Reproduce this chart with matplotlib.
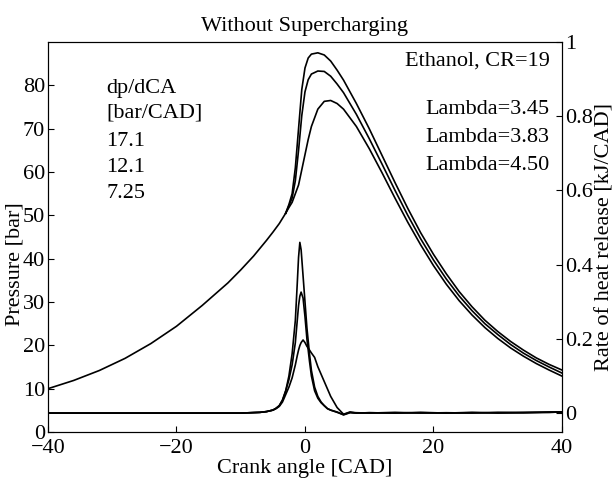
import matplotlib.pyplot as plt

plt.rcParams["font.family"] = ["Liberation Serif", "DejaVu Serif"]
plt.rcParams["font.size"] = 16

# pressure [bar] vs crank angle [CAD]; common compression part
P_COMMON_CAD = [-40, -36, -32, -28, -24, -20, -16, -12, -10, -8, -6, -5, -4, -3]
P_COMMON = [10.0, 11.9, 14.2, 17.0, 20.4, 24.4, 29.2, 34.4, 37.4, 40.6, 44.2, 46.1, 48.1, 50.5]

P_CAD = [-2.5, -2, -1.5, -1, -0.5, 0, 0.5, 1, 2, 3, 4, 5, 6, 8, 10, 12, 14, 16, 18,
         20, 22, 24, 26, 28, 30, 32, 34, 36, 38, 40]
P_L345 = [52.5, 55.0, 61.0, 70.0, 79.0, 84.0, 86.3, 87.2, 87.5, 87.0, 85.6, 83.5, 81.2,
          75.8, 70.0, 63.8, 57.6, 51.6, 46.0, 41.0, 36.5, 32.4, 28.9, 25.8, 23.2, 20.9,
          18.9, 17.1, 15.6, 14.3]
P_L383 = [52.2, 54.0, 58.0, 65.0, 73.0, 78.5, 81.3, 82.6, 83.3, 83.2, 82.1, 80.3, 78.3,
          73.3, 67.7, 61.8, 55.8, 50.0, 44.6, 39.7, 35.3, 31.4, 28.0, 25.0, 22.5, 20.2,
          18.2, 16.5, 15.0, 13.6]
P_L450 = [51.8, 53.0, 55.0, 57.0, 60.5, 64.0, 67.5, 70.5, 74.5, 76.3, 76.5, 75.8, 74.5,
          70.5, 65.4, 59.8, 54.0, 48.4, 43.2, 38.4, 34.1, 30.3, 27.0, 24.1, 21.6, 19.4,
          17.5, 15.8, 14.3, 12.9]

# rate of heat release [kJ/CAD]
Q_CAD = [-40, -20, -10, -7, -6, -5, -4.5, -4, -3.5, -3, -2.5, -2, -1.5, -1.2, -1, -0.8,
         -0.6, -0.3, 0, 0.3, 0.7, 1, 1.5, 2, 2.5, 3, 3.5, 4, 5, 6, 7, 8, 10, 14, 18, 22,
         26, 30, 34, 38, 40]
Q_L345 = [0, 0, 0, 0.002, 0.004, 0.008, 0.013, 0.02, 0.035, 0.06, 0.10, 0.16, 0.25, 0.35,
          0.42, 0.46, 0.44, 0.37, 0.30, 0.23, 0.16, 0.115, 0.07, 0.045, 0.03, 0.02, 0.012,
          0.008, 0.002, -0.004, 0.002, 0.001, 0.0, 0.002, 0.0, 0.001, 0.0, 0.002, 0.001,
          0.003, 0.003]
Q_L383 = [0, 0, 0, 0.002, 0.004, 0.008, 0.013, 0.02, 0.035, 0.06, 0.09, 0.13, 0.19, 0.25,
          0.29, 0.315, 0.326, 0.31, 0.26, 0.20, 0.14, 0.10, 0.06, 0.04, 0.028, 0.02, 0.012,
          0.008, 0.003, -0.005, 0.001, 0.0, 0.001, 0.0, 0.002, 0.0, 0.001, 0.001, 0.002,
          0.002, 0.003]
Q_L450 = [0, 0, 0, 0.002, 0.004, 0.008, 0.012, 0.018, 0.03, 0.05, 0.07, 0.095, 0.13, 0.155,
          0.17, 0.182, 0.19, 0.197, 0.19, 0.18, 0.17, 0.162, 0.15, 0.125, 0.105, 0.085,
          0.065, 0.045, 0.015, -0.003, 0.003, 0.0, 0.001, 0.0, 0.001, 0.0, 0.002, 0.0,
          0.001, 0.002, 0.003]

DPDCA = ["17.1", "12.1", "7.25"]
LAMBDAS = ["3.45", "3.83", "4.50"]


def main():
    fig = plt.figure(figsize=(6.16, 4.87), dpi=100)
    ax = fig.add_axes([0.0779, 0.1129, 0.8344, 0.8009])
    ax2 = ax.twinx()

    lw = 1.2
    ax.plot(P_COMMON_CAD, P_COMMON, color="black", lw=lw)
    for p in (P_L345, P_L383, P_L450):
        ax.plot(P_COMMON_CAD[-1:] + P_CAD, P_COMMON[-1:] + p, color="black", lw=lw)
    for q in (Q_L345, Q_L383, Q_L450):
        ax2.plot(Q_CAD, q, color="black", lw=lw)

    ax.set_xlim(-40, 40)
    ax.set_ylim(0, 90)
    ax.set_xticks([-40, -20, 0, 20, 40])
    ax.set_yticks(range(0, 81, 10))
    ax2.set_ylim(-0.051, 1.0)
    ax2.set_yticks([0, 0.2, 0.4, 0.6, 0.8, 1])
    ax2.set_yticklabels(["0", "0.2", "0.4", "0.6", "0.8", "1"])

    for a in (ax, ax2):
        a.tick_params(direction="in", length=4, width=0.8, pad=2)
    ax.tick_params(axis="x", pad=5)
    ax.set_xlabel("Crank angle [CAD]", labelpad=1)
    ax.set_ylabel("Pressure [bar]", labelpad=0)
    ax.yaxis.set_label_coords(-0.046, 0.43)
    ax2.set_ylabel("Rate of heat release [kJ/CAD]", labelpad=2)
    ax.set_title("Without Supercharging", fontsize=16, pad=8)

    # annotation text
    ax.text(0.113, 0.882, "dp/dCA", transform=ax.transAxes, va="center")
    ax.text(0.113, 0.818, "[bar/CAD]", transform=ax.transAxes, va="center")
    for i, s in enumerate(DPDCA):
        ax.text(0.113, 0.746 - 0.067 * i, s, transform=ax.transAxes, va="center")
    ax.text(0.976, 0.951, "Ethanol, CR=19", transform=ax.transAxes, va="center", ha="right")
    for i, s in enumerate(LAMBDAS):
        ax.text(0.976, 0.826 - 0.071 * i, f"Lambda={s}", transform=ax.transAxes,
                va="center", ha="right")

    fig.savefig("out.png", dpi=100)


if __name__ == "__main__":
    main()
